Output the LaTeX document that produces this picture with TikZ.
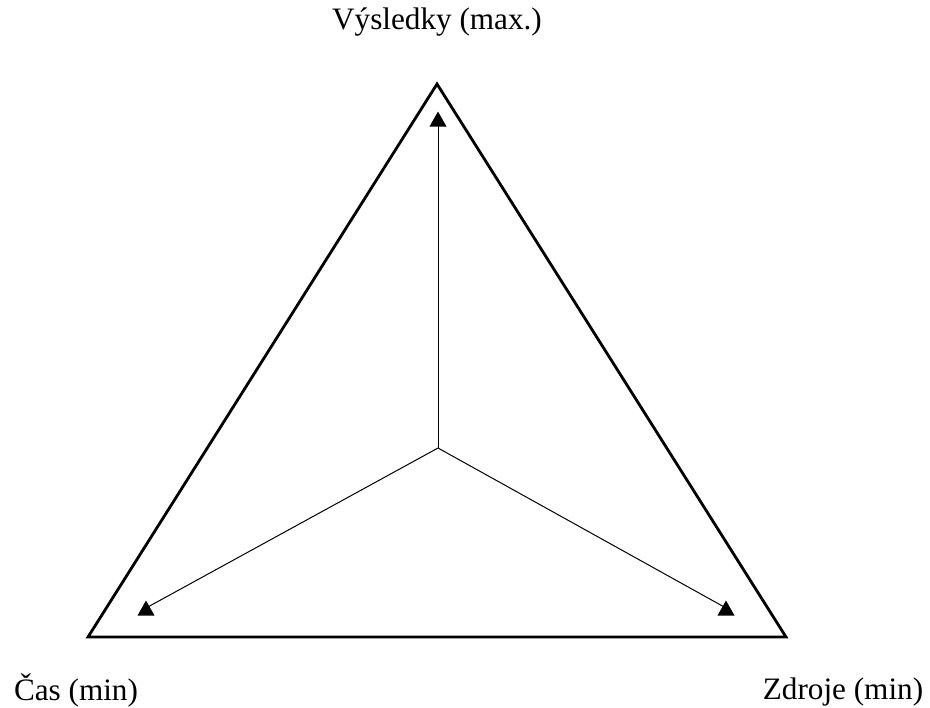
\documentclass[tikz,border=0pt]{standalone}
\usepackage{fontspec}
\setmainfont{Liberation Serif}

\begin{document}
\begin{tikzpicture}[
      x=0.5pt,y=-0.5pt,
      font=\fontsize{15.6}{18}\selectfont,
      edge/.style={line width=1.4pt,line join=miter},
      axis/.style={line width=0.5pt},
      head/.style={fill=black}
    ]
    \useasboundingbox (0,0) rectangle (930,707);
    % triangle corners
    \coordinate (top) at (437,84);
    \coordinate (left) at (88,637);
    \coordinate (right) at (786,637);
    \draw[edge] (top) -- (left) -- (right) -- cycle;

    % centre and upright arrow heads
    \coordinate (mid) at (438,448);
    \coordinate (tipup) at (438,119);
    \coordinate (tipleft) at (146,608);
    \coordinate (tipright) at (726,608);
    \foreach \t in {tipup,tipleft,tipright}{
      \draw[axis] (mid) -- (\t);
      \fill[head,shift={(\t)}] (-8.5,7.5) -- (8.5,7.5) -- (0,-7.5) -- cycle;
    }

    \node (vysl) at (437,22) {Výsledky (max.)};
    \node (cas) at (76,690) {Čas (min)};
    \node (zdr) at (843,692) {Zdroje (min)};
  \end{tikzpicture}
\end{document}
